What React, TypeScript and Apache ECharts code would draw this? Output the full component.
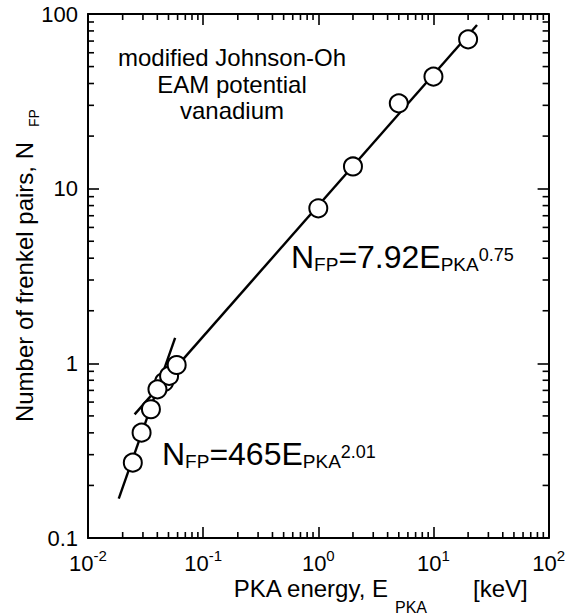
import React, { useEffect, useRef } from 'react';
import * as echarts from 'echarts';

const FONT = '"Liberation Sans", Arial, Helvetica, sans-serif';

// Tick labels
const xTickExponents = ['-2', '-1', '0', '1', '2'];
const yTickLabels = ['0.1', '1', '10', '100'];
const minorMultipliers = [2, 3, 4, 5, 6, 7, 8, 9];
const xDecades = [0.01, 0.1, 1, 10];
const yDecades = [0.1, 1, 10];

// Data points (PKA energy in keV, number of Frenkel pairs)
const pkaEnergy = [0.0458, 0.0506, 0.0245, 0.0292, 0.0352, 0.0401, 0.0589, 1.0, 2.0, 5.0, 10.0, 20.0];
const frenkelPairs = [0.782, 0.847, 0.270, 0.401, 0.546, 0.710, 0.978, 7.72, 13.4, 30.8, 43.8, 71.6];

// Fit line end points
const highFitE = [0.0254, 23.9];
const highFitN = [0.51, 86.5];
const lowFitE = [0.0185, 0.0571];
const lowFitN = [0.168, 1.40];

const annotationLines = ['modified Johnson-Oh', 'EAM potential', 'vanadium'];

const xMinorValues = xDecades.flatMap((d) => minorMultipliers.map((m) => d * m));
const yMinorValues = yDecades.flatMap((d) => minorMultipliers.map((m) => d * m));

const formulaRich = {
  m: { fontSize: 32, verticalAlign: 'top', fontFamily: FONT, color: '#000' },
  sb: { fontSize: 19, verticalAlign: 'top', padding: [14, 0, 0, 0], fontFamily: FONT, color: '#000' },
  sp: { fontSize: 18, verticalAlign: 'top', padding: [5, 0, 0, 0], fontFamily: FONT, color: '#000' },
};

export default function App() {
  const ref = useRef<HTMLDivElement>(null);

  useEffect(() => {
    if (!ref.current) return;
    const chart = echarts.init(ref.current, undefined, { renderer: 'svg' });

    const axisCommon: any = {
      type: 'log',
      logBase: 10,
      axisLine: { show: true, onZero: false, lineStyle: { color: '#000', width: 2 } },
      axisTick: { show: true, inside: true, length: 11, lineStyle: { color: '#000', width: 1.6 } },
      splitLine: { show: false },
      minorTick: { show: false },
    };

    const minorTickSeries = (values: number[], isX: boolean) => ({
      type: 'custom',
      xAxisIndex: 0,
      yAxisIndex: 0,
      silent: true,
      clip: false,
      z: 5,
      data: values.map((v) => (isX ? [v, 1] : [1, v])),
      renderItem: (params: any, api: any) => {
        const cs = params.coordSys;
        const st = { stroke: '#000', lineWidth: 1.6 };
        if (isX) {
          const x = api.coord([api.value(0), 1])[0];
          const b = cs.y + cs.height;
          return {
            type: 'group',
            children: [
              { type: 'line', shape: { x1: x, y1: b, x2: x, y2: b - 6 }, style: st },
              { type: 'line', shape: { x1: x, y1: cs.y, x2: x, y2: cs.y + 6 }, style: st },
            ],
          };
        }
        const y = api.coord([1, api.value(1)])[1];
        const r = cs.x + cs.width;
        return {
          type: 'group',
          children: [
            { type: 'line', shape: { x1: cs.x, y1: y, x2: cs.x + 6, y2: y }, style: st },
            { type: 'line', shape: { x1: r, y1: y, x2: r - 6, y2: y }, style: st },
          ],
        };
      },
    });

    const option: any = {
      animation: false,
      backgroundColor: '#fff',
      textStyle: { fontFamily: FONT, color: '#000' },
      grid: { left: 88, right: 14, top: 14, bottom: 77, containLabel: false },
      xAxis: [
        {
          ...axisCommon,
          min: 0.01,
          max: 100,
          position: 'bottom',
          axisLabel: {
            margin: 10,
            formatter: (v: number) => {
              const e = Math.round(Math.log10(v));
              return `{b|10}{s|${xTickExponents[e + 2]}}`;
            },
            rich: {
              b: { fontSize: 22, verticalAlign: 'top', padding: [4, 0, 0, 0], fontFamily: FONT, color: '#000' },
              s: { fontSize: 15, verticalAlign: 'top', fontFamily: FONT, color: '#000' },
            },
          },
        },
        { ...axisCommon, min: 0.01, max: 100, position: 'top', axisLabel: { show: false } },
      ],
      yAxis: [
        {
          ...axisCommon,
          min: 0.1,
          max: 100,
          position: 'left',
          axisLabel: {
            margin: 10,
            fontSize: 22,
            fontFamily: FONT,
            color: '#000',
            formatter: (v: number) => yTickLabels[Math.round(Math.log10(v)) + 1],
          },
        },
        { ...axisCommon, min: 0.1, max: 100, position: 'right', axisLabel: { show: false } },
      ],
      series: [
        minorTickSeries(xMinorValues, true),
        minorTickSeries(yMinorValues, false),
        {
          type: 'line',
          xAxisIndex: 0,
          yAxisIndex: 0,
          data: highFitE.map((e, i) => [e, highFitN[i]]),
          showSymbol: false,
          symbol: 'none',
          lineStyle: { color: '#000', width: 2.4 },
          z: 3,
        },
        {
          type: 'line',
          xAxisIndex: 0,
          yAxisIndex: 0,
          data: lowFitE.map((e, i) => [e, lowFitN[i]]),
          showSymbol: false,
          symbol: 'none',
          lineStyle: { color: '#000', width: 2.4 },
          z: 3,
        },
        {
          type: 'scatter',
          xAxisIndex: 0,
          yAxisIndex: 0,
          data: pkaEnergy.map((e, i) => [e, frenkelPairs[i]]),
          symbol: 'circle',
          symbolSize: 18,
          itemStyle: { color: '#fff', borderColor: '#000', borderWidth: 2, opacity: 1 },
          z: 4,
        },
      ],
      graphic: [
        ...annotationLines.map((t, i) => ({
          type: 'text',
          x: 232,
          y: [57, 84, 110][i],
          style: { text: t, font: `24px ${FONT}`, fill: '#000', textAlign: 'center', textVerticalAlign: 'middle' },
        })),
        {
          type: 'text',
          x: 291,
          y: 241,
          style: {
            text: '{m|N}{sb|FP}{m|=7.92E}{sb|PKA}{sp|0.75}',
            rich: formulaRich,
            textAlign: 'left',
            textVerticalAlign: 'top',
            fill: '#000',
          },
        },
        {
          type: 'text',
          x: 162,
          y: 438,
          style: {
            text: '{m|N}{sb|FP}{m|=465E}{sb|PKA}{sp|2.01}',
            rich: formulaRich,
            textAlign: 'left',
            textVerticalAlign: 'top',
            fill: '#000',
          },
        },
        {
          type: 'text',
          x: 24,
          y: 142,
          rotation: Math.PI / 2,
          style: { text: 'Number of frenkel pairs, N', font: `24px ${FONT}`, fill: '#000', textAlign: 'right', textVerticalAlign: 'middle' },
        },
        {
          type: 'text',
          x: 34,
          y: 127,
          rotation: Math.PI / 2,
          style: { text: 'FP', font: `14px ${FONT}`, fill: '#000', textAlign: 'left', textVerticalAlign: 'middle' },
        },
        {
          type: 'text',
          x: 388,
          y: 588,
          style: { text: 'PKA energy, E', font: `24px ${FONT}`, fill: '#000', textAlign: 'right', textVerticalAlign: 'middle' },
        },
        {
          type: 'text',
          x: 395,
          y: 607,
          style: { text: 'PKA', font: `16px ${FONT}`, fill: '#000', textAlign: 'left', textVerticalAlign: 'middle' },
        },
        {
          type: 'text',
          x: 473,
          y: 588,
          style: { text: '[keV]', font: `24px ${FONT}`, fill: '#000', textAlign: 'left', textVerticalAlign: 'middle' },
        },
      ],
    };

    chart.setOption(option);
    return () => chart.dispose();
  }, []);

  return (
    <div
      ref={ref}
      style={{ position: 'absolute', left: 0, top: 0, width: 568, height: 615, background: '#fff' }}
    />
  );
}
